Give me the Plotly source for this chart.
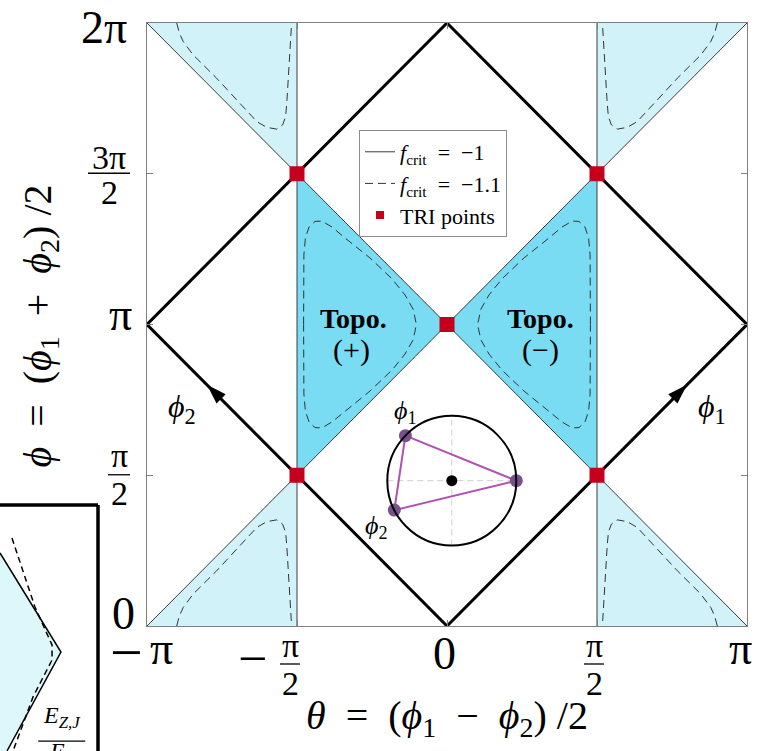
import numpy as np
import plotly.graph_objects as go

PI = np.pi
FIG_W, FIG_H = 757, 751
SERIF = "Liberation Serif, Times New Roman, serif"

# plot area in figure pixels
AX_L, AX_R, AX_T, AX_B = 147, 747, 23, 626
AX_W, AX_H = AX_R - AX_L, AX_B - AX_T

# ---- axis ticks (units of pi) ----
theta_ticks = [-1.0, -0.5, 0.0, 0.5, 1.0]
phi_ticks = [0.0, 0.5, 1.0, 1.5, 2.0]

# ---- f_crit = -1 phase boundaries (units of pi) ----
bound_theta = [-1, 1, None, -1, 1, None, -0.5, -0.5, None, 0.5, 0.5]
bound_phi = [2, 0, None, 0, 2, None, 0, 2, None, 0, 2]

# topological triangles
topo_plus_theta = [-0.5, -0.5, 0.0]
topo_plus_phi = [0.5, 1.5, 1.0]
topo_minus_theta = [0.5, 0.5, 0.0]
topo_minus_phi = [0.5, 1.5, 1.0]

# light corner triangles
corner_theta = [-1, -0.5, -0.5, None, 0.5, 1, 0.5, None,
                -1, -0.5, -0.5, None, 0.5, 1, 0.5]
corner_phi = [2, 2, 1.5, None, 2, 2, 1.5, None,
              0, 0, 0.5, None, 0, 0, 0.5]

# f_crit = -1.1 contour inside the (+) region, upper half (units of pi)
topo_c_theta = [-0.478, -0.478, -0.477, -0.472, -0.460, -0.440, -0.417, -0.383,
                -0.340, -0.257, -0.183, -0.140, -0.113, -0.102]
topo_c_phi = [1.000, 1.114, 1.231, 1.287, 1.323, 1.342, 1.343, 1.323,
              1.287, 1.221, 1.151, 1.098, 1.051, 1.000]

# f_crit = -1.1 contour in the top-left corner (units of pi)
corner_c_theta = [-0.901, -0.892, -0.879, -0.846, -0.768, -0.690, -0.634, -0.601,
                  -0.568, -0.548, -0.538, -0.534, -0.529, -0.521, -0.518]
corner_c_phi = [2.000, 1.966, 1.938, 1.894, 1.817, 1.734, 1.673, 1.654,
                1.648, 1.662, 1.689, 1.734, 1.822, 1.933, 2.000]

# Josephson diamond
diamond_theta = [0, 1, 0, -1, 0]
diamond_phi = [0, 1, 2, 1, 0]

# time-reversal invariant points
tri_theta = [-0.5, 0.5, 0.0, -0.5, 0.5]
tri_phi = [0.5, 0.5, 1.0, 1.5, 1.5]

# direction arrows on the diamond edges
arrow_theta = [-0.8, 0.8]
arrow_phi = [0.8, 0.8]
arrow_angle = [-45, 45]

# phase-circle inset
inset_center = (0.016, 0.482)
inset_radius = 0.215
inset_angles_deg = [136, 0, 207]   # phi_1, reference, phi_2

# partial neighbouring panel (own unit box)
panel_line_u = [0.0, 0.622, 0.071]
panel_line_v = [0.805, 0.402, 0.0]
panel_dash_u = [0.122, 0.357, 0.531, 0.531, 0.337, 0.133]
panel_dash_v = [0.866, 0.585, 0.431, 0.370, 0.220, 0.0]

C_TOPO = "#79DCF2"
C_LIGHT = "#D2F2FA"
C_RED = "#C4001D"
C_PURPLE_LINE = "#B050B0"
C_PURPLE_DOT = "#7B4E8E"


def scale(vals):
    return [None if v is None else v * PI for v in vals]


def closed_topo(th, ph):
    th_full = th + [t for t in th[::-1]]
    ph_full = ph + [2 - p for p in ph[::-1]]
    return th_full, ph_full


fig = go.Figure()

# fills
fig.add_trace(go.Scatter(x=scale(corner_theta), y=scale(corner_phi), mode="lines",
                         fill="toself", fillcolor=C_LIGHT, line=dict(width=0),
                         showlegend=False, hoverinfo="skip"))
for th, ph in [(topo_plus_theta, topo_plus_phi), (topo_minus_theta, topo_minus_phi)]:
    fig.add_trace(go.Scatter(x=scale(th + [th[0]]), y=scale(ph + [ph[0]]), mode="lines",
                             fill="toself", fillcolor=C_TOPO, line=dict(width=0),
                             showlegend=False, hoverinfo="skip"))

# f_crit = -1 boundaries
fig.add_trace(go.Scatter(x=scale(bound_theta), y=scale(bound_phi), mode="lines",
                         line=dict(color="#3c3c3c", width=1),
                         name="<i>f</i><sub>crit</sub>&nbsp;&nbsp;=&nbsp;&nbsp;−1",
                         hoverinfo="skip"))

# f_crit = -1.1 contours, using the (theta -> -theta, phi -> 2pi - phi) symmetry
tp_th, tp_ph = closed_topo(topo_c_theta, topo_c_phi)
dash_th, dash_ph = [], []
for sx in (1, -1):
    dash_th += [sx * t for t in tp_th] + [None]
    dash_ph += tp_ph + [None]
for sx in (1, -1):
    for flip in (False, True):
        dash_th += [sx * t for t in corner_c_theta] + [None]
        dash_ph += [(2 - p) if flip else p for p in corner_c_phi] + [None]
fig.add_trace(go.Scatter(x=scale(dash_th), y=scale(dash_ph), mode="lines",
                         line=dict(color="#333333", width=1, dash="8px,5px"),
                         name="<i>f</i><sub>crit</sub>&nbsp;&nbsp;=&nbsp;&nbsp;−1.1",
                         hoverinfo="skip"))

# diamond
fig.add_trace(go.Scatter(x=scale(diamond_theta), y=scale(diamond_phi), mode="lines",
                         line=dict(color="black", width=3), showlegend=False,
                         hoverinfo="skip"))
fig.add_trace(go.Scatter(x=scale(arrow_theta), y=scale(arrow_phi), mode="markers",
                         marker=dict(symbol="arrow", size=21, angle=arrow_angle,
                                     color="black", line=dict(width=0)),
                         showlegend=False, hoverinfo="skip"))

# inset: phase circle
cx, cy = inset_center
ang = np.deg2rad(inset_angles_deg)
pts_th = [cx + inset_radius * np.cos(a) for a in ang]
pts_ph = [cy + inset_radius * np.sin(a) for a in ang]
fig.add_trace(go.Scatter(x=scale([cx - inset_radius, cx + inset_radius, None, cx, cx]),
                         y=scale([cy, cy, None, cy - inset_radius, cy + inset_radius]),
                         mode="lines", line=dict(color="#cfcfcf", width=1, dash="6px,4px"),
                         showlegend=False, hoverinfo="skip"))
fig.add_shape(type="circle", xref="x", yref="y",
              x0=(cx - inset_radius) * PI, x1=(cx + inset_radius) * PI,
              y0=(cy - inset_radius) * PI, y1=(cy + inset_radius) * PI,
              line=dict(color="black", width=2))
fig.add_trace(go.Scatter(x=scale(pts_th + [pts_th[0]]), y=scale(pts_ph + [pts_ph[0]]),
                         mode="lines", line=dict(color=C_PURPLE_LINE, width=2),
                         showlegend=False, hoverinfo="skip"))
fig.add_trace(go.Scatter(x=scale(pts_th), y=scale(pts_ph), mode="markers",
                         marker=dict(size=13, color=C_PURPLE_DOT), showlegend=False,
                         hoverinfo="skip"))
fig.add_trace(go.Scatter(x=[cx * PI], y=[cy * PI], mode="markers",
                         marker=dict(size=11, color="black"), showlegend=False,
                         hoverinfo="skip"))

# TRI points
fig.add_trace(go.Scatter(x=scale(tri_theta), y=scale(tri_phi), mode="markers",
                         marker=dict(symbol="square", size=15, color=C_RED, line=dict(width=0)),
                         showlegend=False, legendgroup="tri", hoverinfo="skip"))
fig.add_trace(go.Scatter(x=[None], y=[None], mode="markers", legendgroup="tri",
                         marker=dict(symbol="square", size=8, color=C_RED, line=dict(width=0)),
                         name="TRI points"))

# neighbouring panel fragment
fig.add_trace(go.Scatter(x=[0] + panel_line_u + [0], y=[0] + panel_line_v + [0],
                         xaxis="x2", yaxis="y2", mode="lines", fill="toself",
                         fillcolor="#DDF7FA", line=dict(width=0), showlegend=False,
                         hoverinfo="skip"))
fig.add_trace(go.Scatter(x=panel_line_u, y=panel_line_v, xaxis="x2", yaxis="y2",
                         mode="lines", line=dict(color="black", width=1.5),
                         showlegend=False, hoverinfo="skip"))
fig.add_trace(go.Scatter(x=panel_dash_u, y=panel_dash_v, xaxis="x2", yaxis="y2",
                         mode="lines", line=dict(color="black", width=1.5, dash="6px,4px"),
                         showlegend=False, hoverinfo="skip"))
for x0, y0, x1, y1 in [(0, 1, 1, 1), (1, 0, 1, 1)]:
    fig.add_shape(type="line", xref="x2 domain", yref="y2 domain",
                  x0=x0, y0=y0, x1=x1, y1=y1, line=dict(color="black", width=3.5))


def text(t, x, y, size, xref="x", yref="y", dx=0, dy=0, **kw):
    """Centred text; dx/dy are pixel offsets (dy positive = down)."""
    fig.add_annotation(text=t, x=x, y=y, xref=xref, yref=yref, showarrow=False,
                       xanchor="center", yanchor="middle", xshift=dx, yshift=-dy,
                       font=dict(family=SERIF, size=size, color="black"), **kw)


def bar(xd, yd, width):
    """Fraction bar at axis-domain position (xd, yd), width in pixels."""
    hw = width / 2 / AX_W
    fig.add_shape(type="line", xref="x domain", yref="y domain",
                  x0=xd - hw, x1=xd + hw, y0=yd, y1=yd,
                  line=dict(color="black", width=1.3))


def frac(num, den, xd, yd, dx, dy, size, bar_w, num_up=17, den_down=19):
    """Stacked fraction centred at domain point (xd, yd) + pixel offset (dx, dy)."""
    text(num, xd, yd, size, "x domain", "y domain", dx, dy - num_up)
    text(den, xd, yd, size, "x domain", "y domain", dx, dy + den_down)
    bar(xd + dx / AX_W, yd - dy / AX_H, bar_w)


def xdom(theta_pi):
    return (theta_pi + 1) / 2


def ydom(phi_pi):
    return phi_pi / 2


# y tick labels (offsets relative to the tick position on the left axis)
text("0", 0, ydom(0), 46, "x domain", "y domain", dx=-23.5, dy=-12.5)
frac("π", "2", 0, ydom(0.5), -28, -0.5, 34, 22, num_up=19)
text("π", 0, ydom(1), 46, "x domain", "y domain", dx=-27, dy=-10.5)
frac("3π", "2", 0, ydom(1.5), -38, -0.5, 34, 42, num_up=16)
text("2π", 0, ydom(2), 46, "x domain", "y domain", dx=-43, dy=4)

# x tick labels (offsets relative to the tick position on the bottom axis)
text("−", xdom(-1), 0, 58, "x domain", "y domain", dx=-21, dy=26)
text("π", xdom(-1), 0, 46, "x domain", "y domain", dx=14, dy=22)
text("−", xdom(-0.5), 0, 52, "x domain", "y domain", dx=-45, dy=32)
frac("π", "2", xdom(-0.5), 0, -7, 38, 34, 20, num_up=19)
text("0", xdom(0), 0, 46, "x domain", "y domain", dx=-3, dy=27)
frac("π", "2", xdom(0.5), 0, -3, 38, 34, 20, num_up=19)
text("π", xdom(1), 0, 46, "x domain", "y domain", dx=-7, dy=22)

# axis titles
text("<i>θ</i>&nbsp;&nbsp;=&nbsp;&nbsp;(<i>ϕ</i><sub>1</sub>&nbsp;&nbsp;−&nbsp;&nbsp;"
     "<i>ϕ</i><sub>2</sub>)&nbsp;/2", 0.5, 0, 40, "x domain", "y domain", dy=92)
text("<i>ϕ</i>&nbsp;&nbsp;=&nbsp;&nbsp;(<i>ϕ</i><sub>1</sub>&nbsp;&nbsp;+&nbsp;&nbsp;"
     "<i>ϕ</i><sub>2</sub>)&nbsp;/2", 0, ydom(1), 40, "x domain", "y domain",
     dx=-108, dy=2, textangle=-90)

# region labels
text("<b>Topo.</b>", -0.313 * PI, 1.02 * PI, 28)
text("(+)", -0.317 * PI, 0.915 * PI, 30)
text("<b>Topo.</b>", 0.31 * PI, 1.02 * PI, 28)
text("(−)", 0.31 * PI, 0.915 * PI, 30)

# arrow labels
text("<i>ϕ</i><sub>2</sub>", -0.883 * PI, 0.723 * PI, 32)
text("<i>ϕ</i><sub>1</sub>", 0.883 * PI, 0.723 * PI, 32)

# inset labels
text("<i>ϕ</i><sub>1</sub>", pts_th[0] * PI, pts_ph[0] * PI, 26, dy=-24)
text("<i>ϕ</i><sub>2</sub>", pts_th[2] * PI, pts_ph[2] * PI, 26, dx=-18, dy=17)

# neighbouring panel label
text("<i>E</i><sub><i>Z,J</i></sub>", 0.63, 0.14, 24, "x2 domain", "y2 domain")
text("<i>E</i><sub><i>Z</i></sub>", 0.63, -0.01, 24, "x2 domain", "y2 domain")
fig.add_shape(type="line", xref="x2 domain", yref="y2 domain", x0=0.39, x1=0.87,
              y0=0.04, y1=0.04, line=dict(color="black", width=1.3))

axis_common = dict(showgrid=False, zeroline=False, showline=True, linecolor="#808080",
                   linewidth=1, mirror="ticks", ticks="inside", ticklen=6,
                   tickcolor="#808080", showticklabels=False, fixedrange=True)

fig.update_layout(
    width=FIG_W, height=FIG_H,
    margin=dict(l=0, r=0, t=0, b=0),
    paper_bgcolor="white", plot_bgcolor="white",
    xaxis=dict(domain=[AX_L / FIG_W, AX_R / FIG_W], range=[-PI, PI],
               tickvals=[t * PI for t in theta_ticks], **axis_common),
    yaxis=dict(domain=[1 - AX_B / FIG_H, 1 - AX_T / FIG_H], range=[0, 2 * PI],
               tickvals=[t * PI for t in phi_ticks], **axis_common),
    xaxis2=dict(domain=[0, 98 / FIG_W], range=[0, 1], visible=False, fixedrange=True),
    yaxis2=dict(domain=[0, (FIG_H - 505) / FIG_H], range=[0, 1], visible=False,
                fixedrange=True),
    legend=dict(x=359 / FIG_W, y=1 - 130 / FIG_H, xanchor="left", yanchor="top",
                bgcolor="white", bordercolor="#8c8c8c", borderwidth=1,
                font=dict(family=SERIF, size=22, color="black"), tracegroupgap=0),
    showlegend=True,
)

fig.write_html("out.html")
